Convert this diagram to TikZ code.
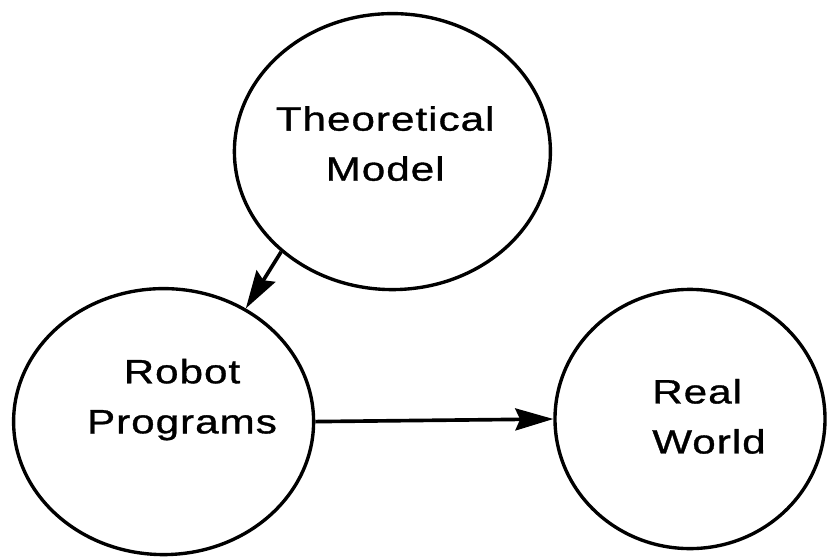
\documentclass[tikz,border=0pt]{standalone}
\usepackage{fontspec}
\usepackage{tikz}
\usetikzlibrary{arrows.meta,shapes.geometric,calc}
\newfontfamily\figfont{Liberation Sans}[FakeStretch=1.25,LetterSpace=3,FakeBold=1]

\begin{document}
\begin{tikzpicture}[x=1cm,y=1cm,>=Stealth,
    blob/.style={ellipse,draw,line width=2.4pt,inner sep=0pt},
    lbl/.style={font=\figfont\fontsize{24}{35.6}\selectfont,align=center,inner sep=0pt},
    link/.style={-{Stealth[length=0.95cm,width=0.55cm,inset=0.12cm]},line width=2.6pt}]
  \useasboundingbox (0,0) rectangle (20.75,13.9);
  \node[blob,minimum width=7.9cm,minimum height=6.9cm] (theory) at (9.81,10.11) {};
  \node[blob,minimum width=7.5cm,minimum height=6.65cm] (robot) at (4.09,3.36) {};
  \node[blob,minimum width=6.75cm,minimum height=6.48cm] (world) at (17.25,3.425) {};
  \node[lbl] (theorytxt) at (9.63,10.31) {Theoretical\\Model};
  \node[lbl] (robottxt) at (4.55,3.91) {Robot\\Programs};
  \node[lbl,align=left,anchor=west] (worldtxt) at (16.3,3.49) {Real\\World};
  \draw[link] (theory.222) -- (robot.54);
  \draw[link] (robot.east) -- (world.west);
\end{tikzpicture}
\end{document}
